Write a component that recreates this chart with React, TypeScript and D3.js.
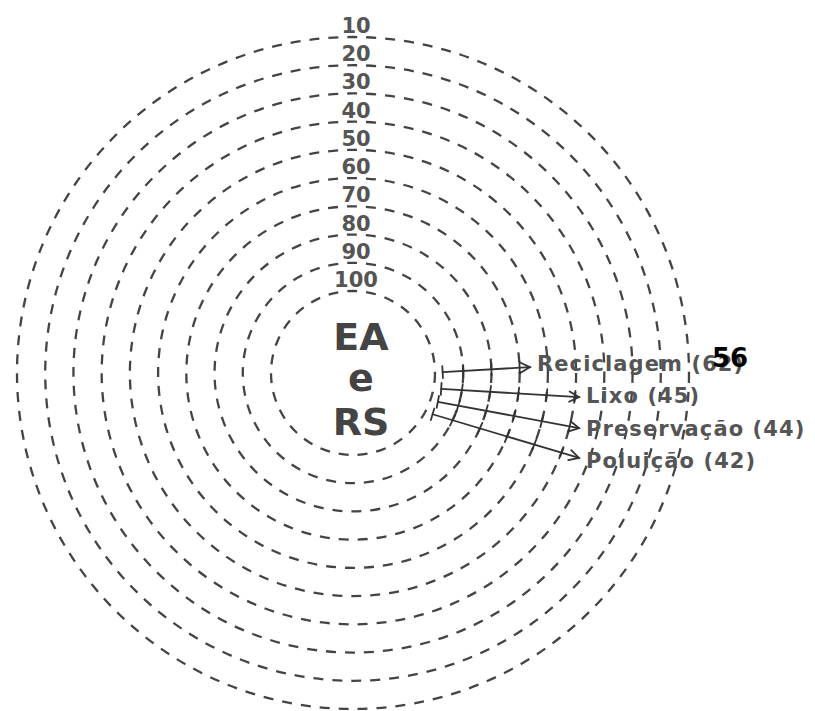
import React, { useEffect, useRef } from "react";
import * as d3 from "d3";

// ring labels, outermost first
const ringLabels = [10, 20, 30, 40, 50, 60, 70, 80, 90, 100];

// topics pointing out of the centre
const topics = ["Reciclagem", "Lixo", "Preservação", "Poluição"];
const topicCounts = [62, 45, 44, 42];
const arrowStartDeg = [-0.6, 10.2, 18.8, 27.4];
const arrowEndDeg = [-1.9, 6.1, 13.7, 20.6];
const arrowStartReach = [97.3, 97.3, 97.3, 97.3];
const arrowReach = [66.3, 48.5, 46.6, 43.5];

const centreWords = ["EA", "e", "RS"];
const stampText = "56";

const W = 815;
const H = 711;

const App = () => {
  const ref = useRef<SVGSVGElement>(null);

  useEffect(() => {
    const svg = d3.select(ref.current);
    svg.selectAll("*").remove();

    const cx = 353;
    const cy = 373;
    const r = d3.scaleLinear().domain([100, 10]).range([82, 336]);
    const font = "DejaVu Sans, Verdana, sans-serif";

    svg.append("rect").attr("width", W).attr("height", H).attr("fill", "#fff");

    const g = svg.append("g").attr("transform", `translate(${cx},${cy})`);

    // dashed rings
    g.append("g")
      .attr("fill", "none")
      .attr("stroke", "#444")
      .attr("stroke-width", 2.3)
      .attr("stroke-dasharray", "10 9")
      .selectAll("circle")
      .data(ringLabels)
      .join("circle")
      .attr("r", d => r(d));

    // ring labels on top of each ring
    g.append("g")
      .attr("font-family", font)
      .attr("font-weight", "bold")
      .attr("font-size", 21)
      .attr("fill", "#555")
      .attr("text-anchor", "middle")
      .selectAll("text")
      .data(ringLabels)
      .join("text")
      .attr("x", 3)
      .attr("y", d => -r(d) - 4)
      .text(d => d);

    // centre text
    const centreY = [-23, 18, 62];
    g.append("g")
      .attr("font-family", font)
      .attr("font-weight", "bold")
      .attr("font-size", 38)
      .attr("fill", "#444")
      .attr("text-anchor", "middle")
      .selectAll("text")
      .data(centreWords)
      .join("text")
      .attr("x", 8)
      .attr("y", (d, i) => centreY[i])
      .text(d => d);

    const rad = (deg: number) => (deg * Math.PI) / 180;
    const pt = (deg: number, rr: number): [number, number] => [
      rr * Math.cos(rad(deg)),
      rr * Math.sin(rad(deg)),
    ];

    const arrows = topics.map((name, i) => ({
      name,
      count: topicCounts[i],
      start: pt(arrowStartDeg[i], r(arrowStartReach[i])),
      end: pt(arrowEndDeg[i], r(arrowReach[i])),
    }));

    const ag = g.append("g")
      .attr("fill", "none")
      .attr("stroke", "#333")
      .attr("stroke-width", 1.8)
      .attr("stroke-linecap", "round");

    arrows.forEach(a => {
      const [x0, y0] = a.start;
      const [x1, y1] = a.end;
      const len = Math.hypot(x1 - x0, y1 - y0);
      const ux = (x1 - x0) / len;
      const uy = (y1 - y0) / len;

      ag.append("line")
        .attr("x1", x0).attr("y1", y0)
        .attr("x2", x1).attr("y2", y1);

      // start cap
      ag.append("line")
        .attr("x1", x0 - uy * 6).attr("y1", y0 + ux * 6)
        .attr("x2", x0 + uy * 6).attr("y2", y0 - ux * 6);

      // ticks where the arrow crosses the rings
      const r0 = Math.hypot(x0, y0);
      const r1 = Math.hypot(x1, y1);
      ringLabels.forEach(v => {
        const rr = r(v);
        if (rr <= r0 + 4 || rr >= r1 - 4) return;
        const b = x0 * ux + y0 * uy;
        const c = x0 * x0 + y0 * y0 - rr * rr;
        const t = -b + Math.sqrt(b * b - c);
        const px = x0 + ux * t;
        const py = y0 + uy * t;
        const ang = Math.atan2(py, px);
        const tx = -Math.sin(ang);
        const ty = Math.cos(ang);
        ag.append("line")
          .attr("x1", px - tx * 6).attr("y1", py - ty * 6)
          .attr("x2", px + tx * 6).attr("y2", py + ty * 6);
      });

      // open arrow head
      const hl = 11;
      const spread = rad(28);
      const back = Math.atan2(-uy, -ux);
      ag.append("path").attr(
        "d",
        `M${x1 + hl * Math.cos(back + spread)},${y1 + hl * Math.sin(back + spread)}L${x1},${y1}L${x1 + hl * Math.cos(back - spread)},${y1 + hl * Math.sin(back - spread)}`
      );
    });

    // topic labels
    g.append("g")
      .attr("font-family", font)
      .attr("font-weight", "bold")
      .attr("font-size", 21)
      .attr("letter-spacing", 1.1)
      .attr("fill", "#555")
      .selectAll("text")
      .data(arrows)
      .join("text")
      .attr("x", d => d.end[0] + 7)
      .attr("y", (d, i) => d.end[1] + 4 + i * 2)
      .text(d => `${d.name} (${d.count})`);

    // black stamp over the first label
    const first = arrows[0];
    g.append("text")
      .attr("x", first.end[0] + 182)
      .attr("y", first.end[1])
      .attr("font-family", font)
      .attr("font-weight", "bold")
      .attr("font-size", 26)
      .attr("fill", "#000")
      .text(stampText);
  }, []);

  return (
    <svg
      ref={ref}
      width={W}
      height={H}
      style={{ position: "absolute", left: 0, top: 0, display: "block" }}
    />
  );
};

export default App;
